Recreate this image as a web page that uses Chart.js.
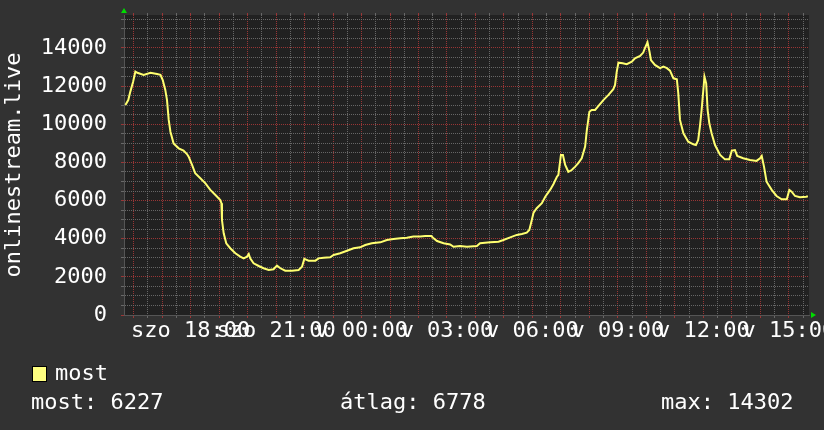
<!DOCTYPE html>
<html>
<head>
<meta charset="utf-8">
<script src="https://cdn.jsdelivr.net/npm/chart.js@4.4.1/dist/chart.umd.min.js"></script>
<style>
  html, body { margin: 0; padding: 0; background: #323232; }
  #wrap { position: relative; width: 824px; height: 430px; }
  #chart { position: absolute; left: 0; top: 0; }
  .leg { position: absolute; color: #fff; font: 22px 'DejaVu Sans Mono', monospace; line-height: 26px; white-space: pre; }
  #swatch { position: absolute; left: 32px; top: 366px; width: 13px; height: 14px; background: #ffff80; border: 1px solid #000; }
</style>
</head>
<body>
<div id="wrap">
  <canvas id="chart" width="824" height="430"></canvas>
  <div id="swatch"></div>
  <div class="leg" style="left:55px; top:360px;">most</div>
  <div class="leg" style="left:31px; top:389px;">most: 6227</div>
  <div class="leg" style="left:340px; top:389px;">átlag: 6778</div>
  <div class="leg" style="left:661px; top:389px;">max: 14302</div>
</div>
<script>
// time in hours since szo 00:00, viewers
const hours = [
  15.71, 15.81, 15.88, 15.98, 16.06, 16.13, 16.35, 16.59, 16.82, 16.94,
  17.02, 17.11, 17.17, 17.23, 17.29, 17.40, 17.58, 17.75, 17.87, 17.93,
  18.05, 18.16, 18.34, 18.52, 18.69, 18.87, 19.04, 19.08, 19.10, 19.16,
  19.25, 19.39, 19.57, 19.74, 19.86, 19.98, 20.04, 20.09, 20.21, 20.39,
  20.56, 20.74, 20.91, 21.03, 21.15, 21.32, 21.56, 21.79, 21.91, 21.99,
  22.14, 22.38, 22.49, 22.67, 22.90, 23.02, 23.25, 23.49, 23.72, 23.95,
  24.13, 24.36, 24.66, 24.89, 25.12, 25.36, 25.59, 25.82, 26.06, 26.24,
  26.45, 26.53, 26.65, 26.88, 27.11, 27.23, 27.46, 27.70, 28.05, 28.16,
  28.52, 28.81, 28.98, 29.22, 29.45, 29.63, 29.80, 29.89, 29.95, 30.04,
  30.15, 30.33, 30.45, 30.62, 30.74, 30.86, 30.91, 31.00, 31.07, 31.15,
  31.26, 31.38, 31.50, 31.61, 31.73, 31.85, 31.91, 32.00, 32.08, 32.20,
  32.32, 32.49, 32.67, 32.84, 32.90, 32.96, 33.02, 33.17, 33.31, 33.49,
  33.60, 33.78, 33.89, 33.95, 34.04, 34.11, 34.16, 34.30, 34.48, 34.60,
  34.72, 34.83, 34.95, 35.07, 35.12, 35.18, 35.30, 35.47, 35.65, 35.74,
  35.82, 35.88, 35.94, 36.04, 36.10, 36.15, 36.21, 36.29, 36.41, 36.59,
  36.76, 36.91, 37.00, 37.11, 37.19, 37.40, 37.64, 37.87, 37.99, 38.05,
  38.13, 38.22, 38.40, 38.57, 38.75, 38.93, 39.02, 39.10, 39.22, 39.39,
  39.61, 39.67
];
const viewers = [
  11010, 11270, 11700, 12230, 12760, 12700, 12590, 12700, 12640, 12590,
  12320, 11800, 11270, 10230, 9610, 9000, 8740, 8620, 8440, 8300,
  7870, 7430, 7170, 6900, 6560, 6290, 6030, 5860, 4980, 4280,
  3760, 3500, 3240, 3060, 2970, 3060, 3200, 2970, 2710, 2570,
  2450, 2360, 2400, 2590, 2450, 2320, 2320, 2360, 2530, 2940,
  2850, 2850, 2970, 3000, 3030, 3150, 3240, 3370, 3500, 3550,
  3670, 3760, 3810, 3930, 3990, 4020, 4050, 4110, 4110, 4140,
  4140, 4020, 3880, 3760, 3700, 3580, 3620, 3580, 3620, 3760,
  3810, 3840, 3930, 4070, 4200, 4250, 4320, 4460, 4810, 5370,
  5600, 5860, 6200, 6560, 6870, 7250, 7340, 8390, 8390, 7870,
  7510, 7600, 7780, 7960, 8220, 8830, 9700, 10660, 10750, 10750,
  10960, 11270, 11540, 11840, 12060, 12760, 13230, 13200, 13150, 13280,
  13460, 13580, 13760, 13990, 14302, 13810, 13370, 13110, 12940, 13020,
  12940, 12810, 12410, 12360, 11630, 10230, 9530, 9090, 8950, 8910,
  9180, 9880, 10750, 12500, 12150, 10750, 10050, 9530, 8910, 8390,
  8160, 8160, 8620, 8650, 8340, 8220, 8130, 8080, 8220, 8340,
  7780, 6990, 6560, 6240, 6070, 6070, 6560, 6470, 6240, 6170,
  6200, 6227
];

const xTickHours = [18, 21, 24, 27, 30, 33, 36, 39];
const xTickLabels = ['szo 18:00', 'szo 21:00', 'v 00:00', 'v 03:00', 'v 06:00', 'v 09:00', 'v 12:00', 'v 15:00'];
const yTickValues = [0, 2000, 4000, 6000, 8000, 10000, 12000, 14000];

const X_MIN = 15.66, X_MAX = 39.71;
const Y_MAX = 15730;
const RED = 'rgba(160,55,55,0.95)';
const GRAY = 'rgba(110,110,110,0.9)';
const FONT = { family: "'DejaVu Sans Mono', monospace", size: 22, lineHeight: 1.2 };

function halfHourTicks(scale) {
  const t = [];
  for (let v = 16; v <= 39.5; v += 0.5) t.push({ value: v });
  scale.ticks = t;
}
function xGridColor(ctx) {
  const v = ctx.tick ? ctx.tick.value : 0;
  return Number.isInteger(v) ? RED : GRAY;
}

const plotBg = {
  id: 'plotBg',
  beforeDraw(chart) {
    const { ctx, chartArea: a } = chart;
    ctx.save();
    ctx.fillStyle = '#212121';
    ctx.fillRect(a.left, a.top, a.right - a.left, a.bottom - a.top);
    ctx.restore();
  },
  afterDraw(chart) {
    const { ctx, chartArea: a } = chart;
    ctx.save();
    ctx.fillStyle = '#00dd00';
    ctx.beginPath();
    ctx.moveTo(a.left - 3, a.top - 2);
    ctx.lineTo(a.left + 3, a.top - 2);
    ctx.lineTo(a.left, a.top - 7);
    ctx.closePath();
    ctx.fill();
    ctx.beginPath();
    ctx.moveTo(a.right + 2, a.bottom - 3);
    ctx.lineTo(a.right + 2, a.bottom + 3);
    ctx.lineTo(a.right + 7, a.bottom);
    ctx.closePath();
    ctx.fill();
    ctx.restore();
  }
};

new Chart(document.getElementById('chart'), {
  type: 'line',
  data: {
    datasets: [{
      label: 'most',
      data: hours.map((h, i) => ({ x: h, y: viewers[i] })),
      borderColor: '#ffff70',
      borderWidth: 2,
      pointRadius: 0,
      tension: 0,
      fill: false
    }]
  },
  options: {
    responsive: false,
    animation: false,
    layout: { padding: { left: 0, right: 15, top: 0, bottom: 85 } },
    plugins: { legend: { display: false }, tooltip: { enabled: false } },
    scales: {
      x: {
        type: 'linear',
        position: 'bottom',
        min: X_MIN,
        max: X_MAX,
        afterBuildTicks: halfHourTicks,
        afterFit(scale) { scale.height = 30; },
        grid: { color: xGridColor, tickLength: 3, lineWidth: 1 },
        border: { color: '#555', dash: [1, 1] },
        ticks: {
          autoSkip: false,
          maxRotation: 0,
          minRotation: 0,
          padding: 0,
          color: '#fff',
          font: FONT,
          callback(v) {
            const i = xTickHours.indexOf(v);
            return i >= 0 ? xTickLabels[i] : '';
          }
        }
      },
      xTop: {
        type: 'linear',
        position: 'top',
        min: X_MIN,
        max: X_MAX,
        afterBuildTicks: halfHourTicks,
        afterFit(scale) { scale.height = 15; },
        grid: { color: xGridColor, tickLength: 2, drawOnChartArea: false },
        border: { display: false },
        ticks: { display: false, autoSkip: false }
      },
      y: {
        min: 0,
        max: Y_MAX,
        afterBuildTicks(scale) {
          const t = [];
          for (let v = 0; v <= 15500; v += 500) t.push({ value: v });
          scale.ticks = t;
        },
        afterFit(scale) {
          scale.width = 124;
          scale.paddingTop = 0;
          scale.paddingBottom = 0;
        },
        grid: {
          color: ctx => (ctx.tick && ctx.tick.value % 2000 === 0) ? RED : GRAY,
          tickLength: 3
        },
        border: { color: '#555', dash: [1, 1] },
        ticks: {
          autoSkip: false,
          padding: 14,
          color: '#fff',
          font: FONT,
          callback: v => yTickValues.includes(v) ? String(v) : ''
        },
        title: {
          display: true,
          text: 'onlinestream.live',
          color: '#fff',
          font: FONT,
          padding: { top: 1, bottom: 0 }
        }
      }
    }
  },
  plugins: [plotBg]
});
</script>
</body>
</html>
